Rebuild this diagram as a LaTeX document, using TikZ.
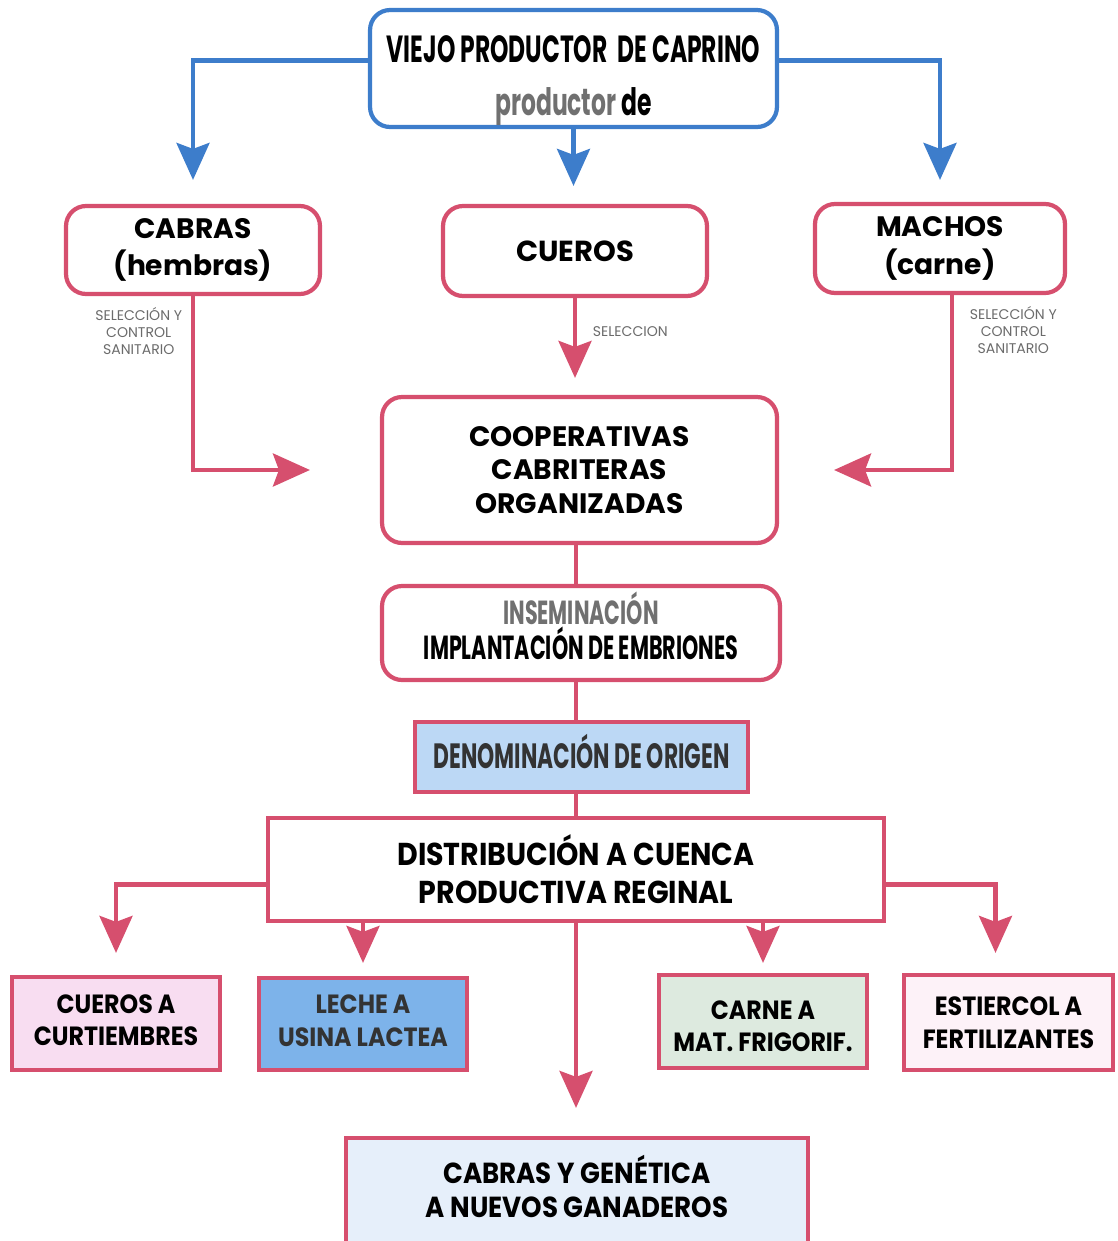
\documentclass[tikz,border=0pt]{standalone}
\usepackage{fontspec}
\setmainfont{Poppins}
\newfontfamily\narrowfont{Poppins}[FakeStretch=0.62]
\newfontfamily\semifont{Poppins}[FakeStretch=0.9]
\usepackage{xcolor}
\definecolor{FlowBlue}{HTML}{3D7DCB}
\definecolor{FlowRose}{HTML}{D64F6E}
\definecolor{LabelGrey}{HTML}{6B6B6B}
\definecolor{InkGrey}{HTML}{333333}
\definecolor{SoftGrey}{HTML}{707070}
\definecolor{OriginBlue}{HTML}{BCD8F5}
\definecolor{MilkBlue}{HTML}{7DB3EA}
\definecolor{HideRose}{HTML}{F8DDF1}
\definecolor{MeatGreen}{HTML}{DDEADF}
\definecolor{SoilRose}{HTML}{FDF2F8}
\definecolor{HerdBlue}{HTML}{E6EFFA}
\usepackage{tikz}
\usetikzlibrary{arrows.meta, positioning, calc}
\tikzstyle{rbox} = [rectangle, draw=FlowRose, fill=white, text=black, rounded corners=0.4cm, line width=2.4pt, align=center, inner sep=0pt]
\tikzstyle{sbox} = [rectangle, draw=FlowRose, fill=white, text=black, line width=2.4pt, align=center, inner sep=0pt]
\tikzstyle{bluearrow} = [-{Stealth[length=0.74cm,width=0.66cm,inset=0.12cm]}, color=FlowBlue, line width=2.4pt]
\tikzstyle{arrow} = [-{Stealth[length=0.74cm,width=0.66cm,inset=0.12cm]}, color=FlowRose, line width=2.4pt]
\tikzstyle{line} = [-, color=FlowRose, line width=2.4pt]
\tikzstyle{note} = [font=\fontsize{8}{9.6}\selectfont, text=LabelGrey, align=center, inner sep=1pt]

\begin{document}
\begin{tikzpicture}[x=0.02cm, y=-0.02cm]
        \useasboundingbox (0,0) rectangle (1117,1241);
        % Entities
        \node [rbox, draw=FlowBlue, minimum width=8.14cm, minimum height=2.34cm, font=\bfseries\narrowfont\fontsize{21.5}{27}\selectfont] (viejo) at (573.5,68.5) {\rule{0pt}{29pt}VIEJO PRODUCTOR\ \ DE CAPRINO\\[3pt] {\color{SoftGrey}productor} de};

        \node [rbox, minimum width=5.08cm, minimum height=1.76cm, font=\bfseries\fontsize{16}{21.5}\selectfont] (cabras) at (193,250) {CABRAS\\(hembras)};
        \node [rbox, minimum width=5.28cm, minimum height=1.8cm, font=\bfseries\fontsize{16.5}{21.5}\selectfont] (cueros) at (575,251) {CUEROS};
        \node [rbox, minimum width=5.0cm, minimum height=1.78cm, font=\bfseries\fontsize{16}{21.5}\selectfont] (machos) at (940,248.5) {MACHOS\\(carne)};

        \node [rbox, minimum width=7.9cm, minimum height=2.92cm, font=\bfseries\fontsize{16}{19}\selectfont] (coop) at (579.5,470) {COOPERATIVAS\\CABRITERAS\\ORGANIZADAS};
        \node [rbox, minimum width=7.96cm, minimum height=1.88cm, font=\bfseries\narrowfont\fontsize{19}{20}\selectfont] (insem) at (581,633) {{\color{SoftGrey}INSEMINACIÓN}\\IMPLANTACIÓN DE EMBRIONES\rule[-8pt]{0pt}{0pt}};
        \node [sbox, fill=OriginBlue, text=InkGrey, minimum width=6.66cm, minimum height=1.4cm, font=\bfseries\narrowfont\fontsize{20}{22}\selectfont] (denom) at (581.5,757) {DENOMINACIÓN DE ORIGEN\rule[-6pt]{0pt}{0pt}};
        \node [sbox, minimum width=12.32cm, minimum height=2.06cm, font=\bfseries\semifont\fontsize{18}{21.5}\selectfont] (distrib) at (576,869.5) {DISTRIBUCIÓN A CUENCA\\PRODUCTIVA REGINAL};

        \node [sbox, fill=HideRose, minimum width=4.16cm, minimum height=1.86cm, font=\bfseries\semifont\fontsize{15}{18.5}\selectfont] (curt) at (116,1023.5) {CUEROS A\\CURTIEMBRES\rule[-4pt]{0pt}{0pt}};
        \node [sbox, fill=MilkBlue, text=InkGrey, minimum width=4.16cm, minimum height=1.84cm, font=\bfseries\semifont\fontsize{15}{18.5}\selectfont] (leche) at (363,1024) {LECHE A\\USINA LACTEA\rule[-4pt]{0pt}{0pt}};
        \node [sbox, fill=MeatGreen, minimum width=4.16cm, minimum height=1.86cm, font=\bfseries\semifont\fontsize{15}{18.5}\selectfont] (carne) at (763,1021.5) {\rule{0pt}{16pt}CARNE A\\MAT. FRIGORIF.};
        \node [sbox, fill=SoilRose, minimum width=4.18cm, minimum height=1.9cm, font=\bfseries\semifont\fontsize{15}{18.5}\selectfont] (estierc) at (1008.5,1022.5) {ESTIERCOL A\\FERTILIZANTES};
        \node [sbox, fill=HerdBlue, minimum width=9.24cm, minimum height=2.12cm, font=\bfseries\semifont\fontsize{16.5}{19.5}\selectfont] (genetica) at (577,1191) {CABRAS Y GENÉTICA\\A NUEVOS GANADEROS\rule[-5pt]{0pt}{0pt}};

        % Relationships
        % Productor -> productos
        \draw [bluearrow, shorten >=0.48cm] ([yshift=0.16cm]viejo.west) -| (cabras.north);
        \draw [bluearrow, shorten >=0.36cm] (viejo.south) -- (viejo.south |- cueros.north);
        \draw [bluearrow, shorten >=0.44cm] ([yshift=0.16cm]viejo.east) -| (machos.north);

        % Productos -> cooperativas
        \draw [arrow, shorten >=1.4cm] (cabras.south) |- node [note, pos=0.1, left=4pt] {SELECCIÓN Y\\CONTROL\\SANITARIO} (coop.west);
        \draw [arrow, shorten >=0.34cm] (cueros.south) -- node [note, pos=0.35, right=8pt] {SELECCION} (cueros.south |- coop.north);
        \draw [arrow, shorten >=1.1cm] ([xshift=0.24cm]machos.south) |- node [note, pos=0.1, right=8pt] {SELECCIÓN Y\\CONTROL\\SANITARIO} (coop.east);

        % Cadena central
        \draw [line] (coop.south -| distrib.north) -- (insem.north -| distrib.north);
        \draw [line] (insem.south -| distrib.north) -- (denom.north -| distrib.north);
        \draw [line] (denom.south -| distrib.north) -- (distrib.north);

        % Distribucion -> destinos
        \draw [arrow, shorten >=0.44cm] ([yshift=-0.3cm]distrib.west) -| (curt.north);
        \draw [arrow, shorten >=0.26cm] (leche.north |- distrib.south) -- (leche.north);
        \draw [arrow, shorten >=0.56cm] (distrib.south) -- (distrib.south |- genetica.north);
        \draw [arrow, shorten >=0.2cm] (carne.north |- distrib.south) -- (carne.north);
        \draw [arrow, shorten >=0.4cm] ([yshift=-0.3cm]distrib.east) -| ([xshift=-0.26cm]estierc.north);
    \end{tikzpicture}
\end{document}
